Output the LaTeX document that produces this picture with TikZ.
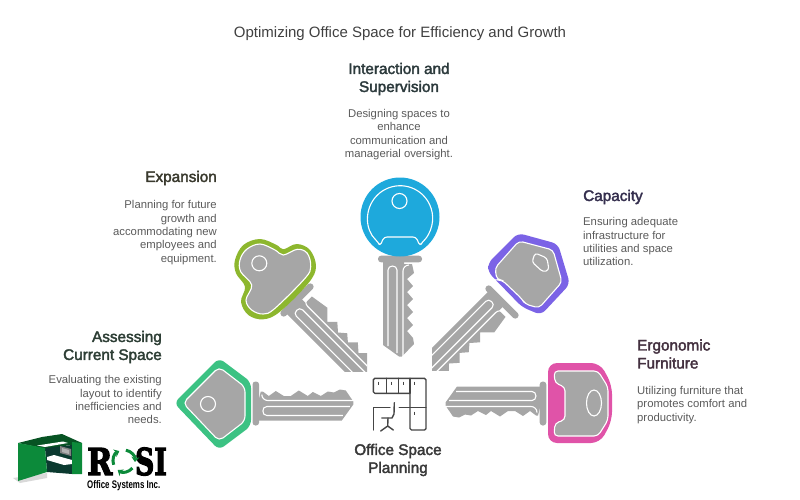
\documentclass[tikz,border=0pt]{standalone}
\usepackage{fontspec}
\setmainfont{Liberation Sans}
\newfontfamily\headfont[FakeBold=2.4]{Liberation Sans}
\newfontfamily\slabfont[FakeBold=3.5]{DejaVu Serif Bold}
\usepackage{xcolor}
\usetikzlibrary{positioning, arrows.meta}

\definecolor{keygray}{HTML}{A6A6A6}
\definecolor{bodygray}{HTML}{5A5A5A}
\definecolor{icondark}{HTML}{454545}
\definecolor{keygreen}{HTML}{3CC283}
\definecolor{keylime}{HTML}{8DB72E}
\definecolor{keyblue}{HTML}{1EA9DC}
\definecolor{keypurple}{HTML}{7B63E6}
\definecolor{keypink}{HTML}{E053A8}
\definecolor{logogreen}{HTML}{0C8A3A}
\definecolor{logoteal}{HTML}{0B3A30}
\definecolor{headteal}{HTML}{2C3A3C}
\definecolor{headolive}{HTML}{3A3A2E}
\definecolor{headpurple}{HTML}{352F4E}
\definecolor{headpink}{HTML}{43303F}
\definecolor{headgreen}{HTML}{2D3E35}

% blade of a key: origin, angle, teeth, length
\newcommand{\keyblade}[4]{
  \begin{scope}[shift={#1},rotate=#2]
    \fill[keygray,rounded corners=3pt] (-3.3,-22) rectangle (3.3,22);
    \fill[keygray] (3,-4) -- #3 -- ({#4-10},17) -- (3,17) -- cycle;
    \draw[groove] (6,-9) to[out=-90,in=180] (12,-3) -- ({#4+2},-3);
    \draw[groove] ({#4-2},3) -- (11,3) to[out=180,in=180,looseness=1.5] (11,12) -- ({#4-9},12);
  \end{scope}
}
% head of a key: colour, outer outline, white outline
\newcommand{\keyhead}[3]{
  \fill[#1] #2;
  \filldraw[keygray,draw=white,line width=1.1pt] #3;
}

\begin{document}
\begin{tikzpicture}[x=1pt,y=-1pt,
  heading/.style={font=\headfont\fontsize{15.3}{18}\selectfont, inner sep=0pt, align=#1},
  heading/.default=center,
  body/.style={font=\fontsize{11.3}{13.4}\selectfont, text=bodygray, inner sep=0pt, align=#1},
  body/.default=center,
  groove/.style={white, line width=1.1pt},
  hole/.style={fill=keygray, draw=white, line width=1.1pt},
  iconline/.style={draw=icondark, line width=1.4pt, line cap=round, line join=round}
]
\useasboundingbox (0,0) rectangle (800,500);

% Title
\node[font=\fontsize{15}{18}\selectfont, text=black!75, inner sep=0pt] (title) at (400,34) {Optimizing Office Space for Efficiency and Growth};

% Interaction and Supervision
\node[heading, text=headteal] (interaction) at (399,79) {Interaction and\\Supervision};
\node[body, below=13.5pt of interaction] (interactiontext) {Designing spaces to\\enhance\\communication and\\managerial oversight.};

% Expansion
\node[heading=right, text=headolive, anchor=east] (expansion) at (217,178) {Expansion};
\node[body=right, below=15pt of expansion.south east, anchor=north east] (expansiontext) {Planning for future\\growth and\\accommodating new\\employees and\\equipment.};

% Capacity
\node[heading=left, text=headpurple, anchor=west] (capacity) at (583,197) {Capacity};
\node[body=left, below=13pt of capacity.south west, anchor=north west] (capacitytext) {Ensuring adequate\\infrastructure for\\utilities and space\\utilization.};

% Ergonomic Furniture
\node[heading=left, text=headpink, anchor=west] (ergonomic) at (637,354) {Ergonomic\\Furniture};
\node[body=left, below=17pt of ergonomic.south west, anchor=north west] (ergonomictext) {Utilizing furniture that\\promotes comfort and\\productivity.};

% Assessing Current Space
\node[heading=right, text=headgreen, anchor=east] (assessing) at (162,347) {Assessing\\Current Space};
\node[body=right, below=12pt of assessing.south east, anchor=north east] (assessingtext) {Evaluating the existing\\layout to identify\\inefficiencies and\\needs.};

% Office Space Planning
\node[heading, text=black!78] (planning) at (398,460) {Office Space\\Planning};

% Green key
\keyblade{(255.8,403.5)}{0}{(5,-12) -- (7,-12) -- (13,-7.5) -- (20,-12.5) -- (28,-7.5) -- (35,-7.5) -- (43,-13) -- (52,-7.5) -- (57,-11.5) -- (65,-7.5) -- (72,-12) -- (78,-11) -- (84,-14) -- (90,-13) -- (97.5,-2) -- (97.5,1)}{96}
\keyhead{keygreen}{[rounded corners=6pt] (174,403) -- (219,358) -- (251,382) -- (251,426) -- (219,450) -- cycle}
  {[rounded corners=5pt] (183,403) -- (219,367) -- (245,387) -- (245,421) -- (219,441) -- cycle}
\draw[hole] (208,404) circle[radius=7.5pt];

% Lime key
\begin{scope}
  \clip (240,200) rectangle (367,371);
  \keyblade{(297,300)}{-45}{(8,-4) -- (8,-13) -- (27,-16) -- (37,-6) -- (44,-13) -- (52,-6) -- (59,-12) -- (66,-6) -- (73,-13) -- (81,-6) -- (87,-12) -- (94,-6) -- (101,-12) -- (108,-6) -- (115,-12) -- (130,-6)}{130}
\end{scope}
\keyhead{keylime}{plot[smooth cycle,tension=0.6] coordinates {(260,239) (276.7,245) (283.3,249.3) (296.7,244) (310,250) (316,266.7) (308.3,283.3) (280,311.7) (263.3,319.3) (248.3,315) (241,301.7) (245,286.7) (236,273.3) (235,260) (243.3,245)}}
  {plot[smooth cycle,tension=0.6] coordinates {(260,244) (275,250) (283.3,255) (297.3,249.3) (307.3,253.3) (310.7,266.7) (305,278.3) (275,308.3) (263.3,314) (251.7,310) (246,300) (251.7,285) (240.7,271.7) (240,260) (246.7,249.3)}}
\draw[hole] (259.3,263.3) circle[radius=7.5pt];

% Blue key
\keyblade{(400,259)}{-90}{(5,-4) -- (5,-12) -- (14,-14) -- (20,-7) -- (27,-13) -- (33,-7) -- (40,-13) -- (46,-7) -- (53,-13) -- (59,-7) -- (66,-13) -- (72,-7) -- (79,-13) -- (85,-14) -- (97.5,-2) -- (97.5,1)}{96}
\fill[keyblue] (400,217) circle[radius=39.5pt];
\draw[white,line width=1.1pt,rounded corners=3pt] (378,242) arc[start angle=227,end angle=-47,radius=32.5pt] -- (420,246) -- (416,237) -- (384,237) -- (380,246) -- cycle;
\draw[hole,fill=keyblue] (399.5,201) circle[radius=7.5pt];

% Purple key
\begin{scope}
  \clip (432,200) rectangle (530,370);
  \keyblade{(502,302)}{-135}{(8,-4) -- (8,-13) -- (27,-16) -- (37,-6) -- (44,-13) -- (52,-6) -- (59,-12) -- (66,-6) -- (73,-13) -- (81,-6) -- (87,-12) -- (94,-6) -- (101,-12) -- (108,-6) -- (115,-12) -- (130,-6)}{130}
\end{scope}
\keyhead{keypurple}{[rounded corners=6pt] (518,233) -- (558,244) -- (570,284) -- (541,315) -- (522,307) -- (488,272) -- (488,263) -- cycle}
  {[rounded corners=4pt] (519,241) -- (553,250) -- (562,282) -- (539,308) -- (525,304) -- (522,299) -- (502,280) -- (497,280) -- (495,268) -- cycle}
\filldraw[keygray,draw=white,line width=1.1pt,rounded corners=3pt] (535,253) -- (547,258) -- (549,270) -- (543,272) -- (532,262) -- cycle;

% Pink key
\keyblade{(543,403.5)}{180}{(5,-12) -- (7,-12) -- (13,-7.5) -- (20,-12.5) -- (28,-7.5) -- (35,-7.5) -- (43,-13) -- (52,-7.5) -- (57,-11.5) -- (65,-7.5) -- (72,-12) -- (78,-11) -- (84,-14) -- (90,-13) -- (97.5,-2) -- (97.5,1)}{96}
\keyhead{keypink}{[rounded corners=9pt] (548,363) -- (600,363) -- (612,385) -- (612,421) -- (600,443) -- (548,443) -- cycle}
  {[rounded corners=4pt] (554,371) -- (598,371) -- (608,387) -- (608,420) -- (598,436) -- (554,436) -- (555,423) -- (565,420) -- (565,387) -- (555,383) -- cycle}
\draw[hole] (594,403) ellipse[x radius=7.5pt,y radius=13pt];

% Office icon
\draw[iconline,rounded corners=1.5pt] (410,393.3) -- (373.3,393.3) -- (373.3,378.3) -- (426,378.3) -- (426,430) -- (410,430) -- (410,393.3);
\draw[iconline] (386.7,378.3) -- (386.7,393.3) (398.3,378.3) -- (398.3,393.3) (410,378.3) -- (410,393.3);
\draw[iconline] (399.3,407.3) -- (426,407.3);
\draw[iconline] (390,407.3) -- (373.3,407.3) -- (373.3,430);
\draw[iconline] (394.3,402.7) -- (394,414) -- (392,418) -- (381.7,418);
\draw[iconline] (388,418) -- (387.7,426) -- (380.7,431) (387.7,426) -- (393.3,430);
\foreach \hx/\hy in {378/383, 391.5/383, 403/383, 414/383, 414/413}
  \draw[icondark,line width=1pt] (\hx,{\hy-1.5}) -- (\hx,{\hy+1.5});

% Logo
\fill[black!15] (13,478) -- (47,473) -- (47,478) -- (20,483) -- cycle;
\fill[logogreen!60!black] (18,443) -- (42,437) -- (62,434) -- (82,443) -- (47,449) -- cycle;
\fill[logoteal] (45,448) -- (72,445) -- (72,474) -- (47,472) -- cycle;
\fill[white] (37,445.5) -- (63,441.5) -- (68,443) -- (45,447) -- cycle;
\fill[white] (47,457) -- (54,455) -- (72,460) -- (72,464) -- (64,465) -- (47,460) -- cycle;
\fill[black!50] (60,446) -- (71,449) -- (71,456) -- (60,453) -- cycle;
\fill[white!70!black] (62,448) -- (69,450) -- (69,454) -- (62,452) -- cycle;
\fill[logogreen] (18,443) -- (45,448) -- (47,472) -- (18,481) -- cycle;
\fill[logogreen] (72,442) -- (82,443) -- (82,474) -- (72,474) -- cycle;
\node[font=\slabfont\fontsize{37}{37}\selectfont, inner sep=0pt, anchor=base west] (logor) at (87,475) {\scalebox{0.82}[1]{R}};
\node[font=\slabfont\fontsize{37}{37}\selectfont, inner sep=0pt, anchor=base east] (logosi) at (167,475) {\scalebox{0.72}[1]{SI}};
\foreach \a in {80,200,320}
  \draw[logogreen, line width=3pt, -{Stealth[length=5pt,width=8pt]}] (124,461) ++(\a:11pt) arc[start angle=\a,end angle=\a-85,radius=11pt];
\node[font=\fontsize{11}{12}\selectfont\bfseries, inner sep=0pt, anchor=west] (logotext) at (87,486) {\scalebox{0.72}[1]{Office Systems Inc.}};

\end{tikzpicture}
\end{document}
